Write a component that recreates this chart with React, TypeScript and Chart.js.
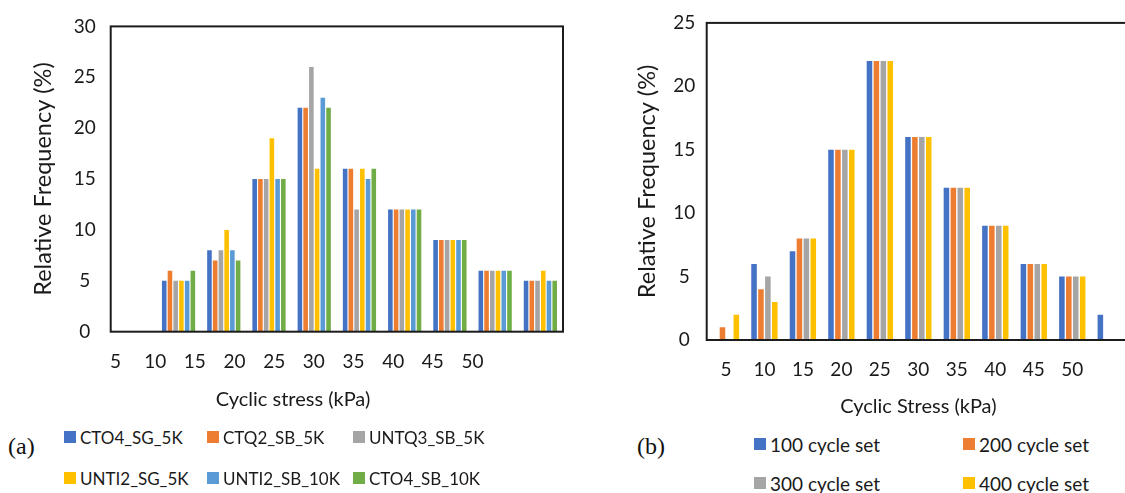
import React, { useEffect, useRef } from "react";
import { Chart, registerables } from "chart.js";

Chart.register(...registerables);

// ---------- Data: chart (a) ----------
const leftSeriesNames = ["CTO4_SG_5K", "CTQ2_SB_5K", "UNTQ3_SB_5K", "UNTI2_SG_5K", "UNTI2_SB_10K", "CTO4_SB_10K"];
const leftCategories = ["5", "10", "15", "20", "25", "30", "35", "40", "45", "50"];
const leftTickValues = [5, 10, 15, 20, 25, 30, 35, 40, 45, 50];
const leftXTitle = "Cyclic stress (kPa)";
const cto4Sg5k = [0, 5, 8, 15, 22, 16, 12, 9, 6, 5];
const ctq2Sb5k = [0, 6, 7, 15, 22, 16, 12, 9, 6, 5];
const untq3Sb5k = [0, 5, 8, 15, 26, 12, 12, 9, 6, 5];
const unti2Sg5k = [0, 5, 10, 19, 16, 16, 12, 9, 6, 6];
const unti2Sb10k = [0, 5, 8, 15, 23, 15, 12, 9, 6, 5];
const cto4Sb10k = [0, 6, 7, 15, 22, 16, 12, 9, 6, 5];
const leftValues = [cto4Sg5k, ctq2Sb5k, untq3Sb5k, unti2Sg5k, unti2Sb10k, cto4Sb10k];
const leftColors = ["#4472C4", "#ED7D31", "#A5A5A5", "#FFC000", "#5B9BD5", "#70AD47"];

// ---------- Data: chart (b) ----------
const rightSeriesNames = ["100 cycle set", "200 cycle set", "300 cycle set", "400 cycle set"];
const rightCategories = ["5", "10", "15", "20", "25", "30", "35", "40", "45", "50", ""];
const set100 = [0, 6, 7, 15, 22, 16, 12, 9, 6, 5, 2];
const set200 = [1, 4, 8, 15, 22, 16, 12, 9, 6, 5, 0];
const set300 = [0, 5, 8, 15, 22, 16, 12, 9, 6, 5, 0];
const set400 = [2, 3, 8, 15, 22, 16, 12, 9, 6, 5, 0];
const rightValues = [set100, set200, set300, set400];
const rightColors = ["#4472C4", "#ED7D31", "#A5A5A5", "#FFC000"];

const FONT = "Lato";
const TEXT = "#1a1a1a";

const framePlugin = {
  id: "frame",
  afterDatasetsDraw(chart: any) {
    const { ctx, chartArea } = chart;
    ctx.save();
    ctx.strokeStyle = "#1c1c1c";
    ctx.lineWidth = 2;
    ctx.strokeRect(chartArea.left, chartArea.top, chartArea.right - chartArea.left, chartArea.bottom - chartArea.top);
    ctx.restore();
  },
};

function LeftChart() {
  const ref = useRef<HTMLCanvasElement>(null);
  useEffect(() => {
    const chart = new Chart(ref.current as HTMLCanvasElement, {
      type: "bar",
      data: {
        labels: leftCategories,
        datasets: leftSeriesNames.map((name, i) => ({
          label: name,
          data: leftValues[i],
          backgroundColor: leftColors[i],
          borderWidth: 0,
          categoryPercentage: 0.76,
          barPercentage: 0.8,
        })),
      },
      options: {
        responsive: false,
        animation: false,
        layout: { padding: { top: 19, left: 0, right: 37, bottom: 0 } },
        plugins: { legend: { display: false }, tooltip: { enabled: false } },
        scales: {
          x: { display: false },
          x2: {
            type: "linear",
            position: "bottom",
            offset: false,
            min: 4.395,
            max: 61.41,
            afterBuildTicks: (axis: any) => {
              axis.ticks = leftTickValues.map((v) => ({ value: v }));
            },
            afterFit: (axis: any) => {
              axis.height = 88.3;
            },
            grid: { display: false, drawTicks: false, offset: false },
            border: { display: false },
            ticks: {
              padding: 19,
              color: TEXT,
              font: { family: FONT, size: 19 },
              callback: (v: any) => String(v),
            },
            title: { display: false },
          },
          y: {
            min: 0,
            max: 30,
            afterFit: (axis: any) => {
              axis.width = 110.7;
            },
            grid: { display: false, drawTicks: false },
            border: { display: false },
            ticks: {
              stepSize: 5,
              padding: 15,
              crossAlign: "center",
              color: TEXT,
              font: { family: FONT, size: 19 },
            },
            title: {
              display: true,
              text: "Relative Frequency (%)",
              color: TEXT,
              font: { family: FONT, size: 23.5 },
              padding: { top: 29, bottom: 0 },
            },
          },
        },
      } as any,
      plugins: [framePlugin],
    });
    return () => chart.destroy();
  }, []);
  return <canvas ref={ref} width={600} height={420} style={{ position: "absolute", left: 0, top: 0 }} />;
}

function RightChart() {
  const ref = useRef<HTMLCanvasElement>(null);
  useEffect(() => {
    const chart = new Chart(ref.current as HTMLCanvasElement, {
      type: "bar",
      data: {
        labels: rightCategories,
        datasets: rightSeriesNames.map((name, i) => ({
          label: name,
          data: rightValues[i],
          backgroundColor: rightColors[i],
          borderWidth: 0,
          categoryPercentage: 0.72,
          barPercentage: 0.8,
        })),
      },
      options: {
        responsive: false,
        animation: false,
        layout: { padding: { top: 19, left: 0, right: 0, bottom: 0 } },
        plugins: { legend: { display: false }, tooltip: { enabled: false } },
        scales: {
          x: {
            afterFit: (axis: any) => {
              axis.height = 90;
            },
            grid: { display: false, drawTicks: false },
            border: { display: false },
            ticks: {
              padding: 18.7,
              color: TEXT,
              font: { family: FONT, size: 19 },
            },
            title: {
              display: true,
              text: "Cyclic Stress (kPa)",
              color: TEXT,
              font: { family: FONT, size: 20 },
              padding: { top: 0, bottom: 11 },
            },
          },
          y: {
            min: 0,
            max: 25,
            afterFit: (axis: any) => {
              axis.width = 106.7;
            },
            grid: { display: false, drawTicks: false },
            border: { display: false },
            ticks: {
              stepSize: 5,
              padding: 11.5,
              crossAlign: "center",
              color: TEXT,
              font: { family: FONT, size: 19 },
            },
            title: {
              display: true,
              text: "Relative Frequency (%)",
              color: TEXT,
              font: { family: FONT, size: 23.5 },
              padding: { top: 33, bottom: 0 },
            },
          },
        },
      } as any,
      plugins: [framePlugin],
    });
    return () => chart.destroy();
  }, []);
  return <canvas ref={ref} width={530} height={430} style={{ position: "absolute", left: 600, top: 0 }} />;
}

function LegendItem({ name, color, x, y, size }: { name: string; color: string; x: number; y: number; size: number }) {
  return (
    <div
      style={{
        position: "absolute",
        left: x,
        top: y - 12,
        height: 24,
        display: "flex",
        alignItems: "center",
        whiteSpace: "nowrap",
        fontFamily: FONT,
        fontSize: size,
        color: TEXT,
      }}
    >
      <span style={{ display: "inline-block", width: 12, height: 12, background: color, marginRight: 4 }} />
      <span>{name}</span>
    </div>
  );
}

export default function App() {
  const leftCols = [64, 207, 353];
  const leftRows = [437, 478];
  const rightCols = [754, 963];
  const rightRows = [444, 483];
  return (
    <div
      style={{
        position: "fixed",
        left: 0,
        top: 0,
        width: 1125,
        height: 493,
        overflow: "hidden",
        background: "#ffffff",
      }}
    >
      <LeftChart />
      <RightChart />
      <div
        style={{
          position: "absolute",
          left: 193,
          width: 200,
          top: 386,
          height: 24,
          lineHeight: "24px",
          textAlign: "center",
          fontFamily: FONT,
          fontSize: 20,
          color: TEXT,
          whiteSpace: "nowrap",
        }}
      >
        {leftXTitle}
      </div>
      {leftSeriesNames.map((name, i) => (
        <LegendItem key={name} name={name} color={leftColors[i]} x={leftCols[i % 3]} y={leftRows[Math.floor(i / 3)]} size={17} />
      ))}
      {rightSeriesNames.map((name, i) => (
        <LegendItem key={name} name={name} color={rightColors[i]} x={rightCols[i % 2]} y={rightRows[Math.floor(i / 2)]} size={19} />
      ))}
      <div style={{ position: "absolute", left: 8, top: 433, fontFamily: "Liberation Serif", fontSize: 24, color: "#111" }}>(a)</div>
      <div style={{ position: "absolute", left: 637, top: 433, fontFamily: "Liberation Serif", fontSize: 24, color: "#111" }}>(b)</div>
    </div>
  );
}
